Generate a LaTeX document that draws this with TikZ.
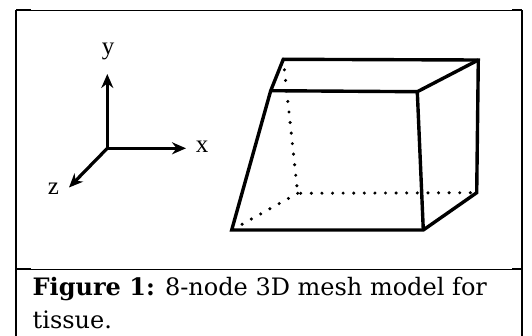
\documentclass[tikz,border=0pt]{standalone}
\usepackage{fontspec}
\setmainfont{Liberation Serif}
\newfontfamily\capfont{DejaVu Serif}
\usetikzlibrary{arrows.meta}

\begin{document}
\begin{tikzpicture}[x=1pt,y=-1pt,
	edge/.style={line width=3.4pt,line join=miter},
	hidden/.style={line width=3.4pt,line cap=round,dash pattern=on 0pt off 10.6pt},
	axis/.style={line width=3.2pt,-{Stealth[length=14pt,width=12pt]}},
	axlabel/.style={inner sep=0pt,font=\fontsize{25}{25}\selectfont}]
\useasboundingbox (0,0) rectangle (532,335);

			% frame of the figure cell
			\coordinate (tl) at (16, 10);
			\coordinate (tr) at (521.5, 10);
			\coordinate (ml) at (16, 269);
			\coordinate (mr) at (521.5, 269);
			\coordinate (bl) at (16, 336);
			\coordinate (br) at (521.5, 336);
			\draw[line width=2pt] (tl) -- (bl);
			\draw[line width=2pt] (tr) -- (br);
			\draw[line width=1pt] (tl) -- (tr);
			\draw[line width=1pt] (ml) -- (mr);
			\draw[line width=2pt] (tl) -- ++(15, 0);
			\draw[line width=2pt] (tr) -- ++(-10, 0);
			\draw[line width=2pt] (ml) -- ++(15, 0);
			\draw[line width=2pt] (mr) -- ++(-10, 0);

			% axes
			\coordinate (o) at (107.3, 148.3);
			\coordinate (xt) at (186, 148.3);
			\coordinate (yt) at (107.3, 74);
			\coordinate (zt) at (69, 187.5);
			\draw[axis] (o) -- (xt);
			\draw[axis] (o) -- (yt);
			\draw[axis] (o) -- (zt);
			\node[axlabel] (xlab) at (202, 147) {x};
			\node[axlabel] (ylab) at (108, 51) {y};
			\node[axlabel] (zlab) at (53.5, 188.7) {z};

			% mesh block
			\coordinate (btl) at (283.3, 59.3);
			\coordinate (btr) at (478.3, 60);
			\coordinate (ftl) at (270.7, 90.7);
			\coordinate (ftr) at (417.3, 91.7);
			\coordinate (fbl) at (231.7, 230);
			\coordinate (fbr) at (423.3, 230);
			\coordinate (bbr) at (476.7, 192.7);
			\coordinate (bbl) at (297.7, 193.3);
			\draw[hidden] (btl) -- (bbl) -- (bbr);
			\draw[hidden] (bbl) -- (fbl);
			\draw[edge] (btl) -- (btr) -- (bbr) -- (fbr) -- (fbl) -- (ftl) -- cycle;
			\draw[edge] (ftl) -- (ftr) -- (fbr);
			\draw[edge] (ftr) -- (btr);

			% caption
			\node[anchor=base west,inner sep=0pt,font=\capfont\fontsize{24}{33}\selectfont]
				(cap1) at (32.5, 295) {\textbf{Figure 1:} 8-node 3D mesh model for};
			\node[anchor=base west,inner sep=0pt,font=\capfont\fontsize{24}{33}\selectfont]
				(cap2) at (32.5, 328) {tissue.};

		\end{tikzpicture}
\end{document}
